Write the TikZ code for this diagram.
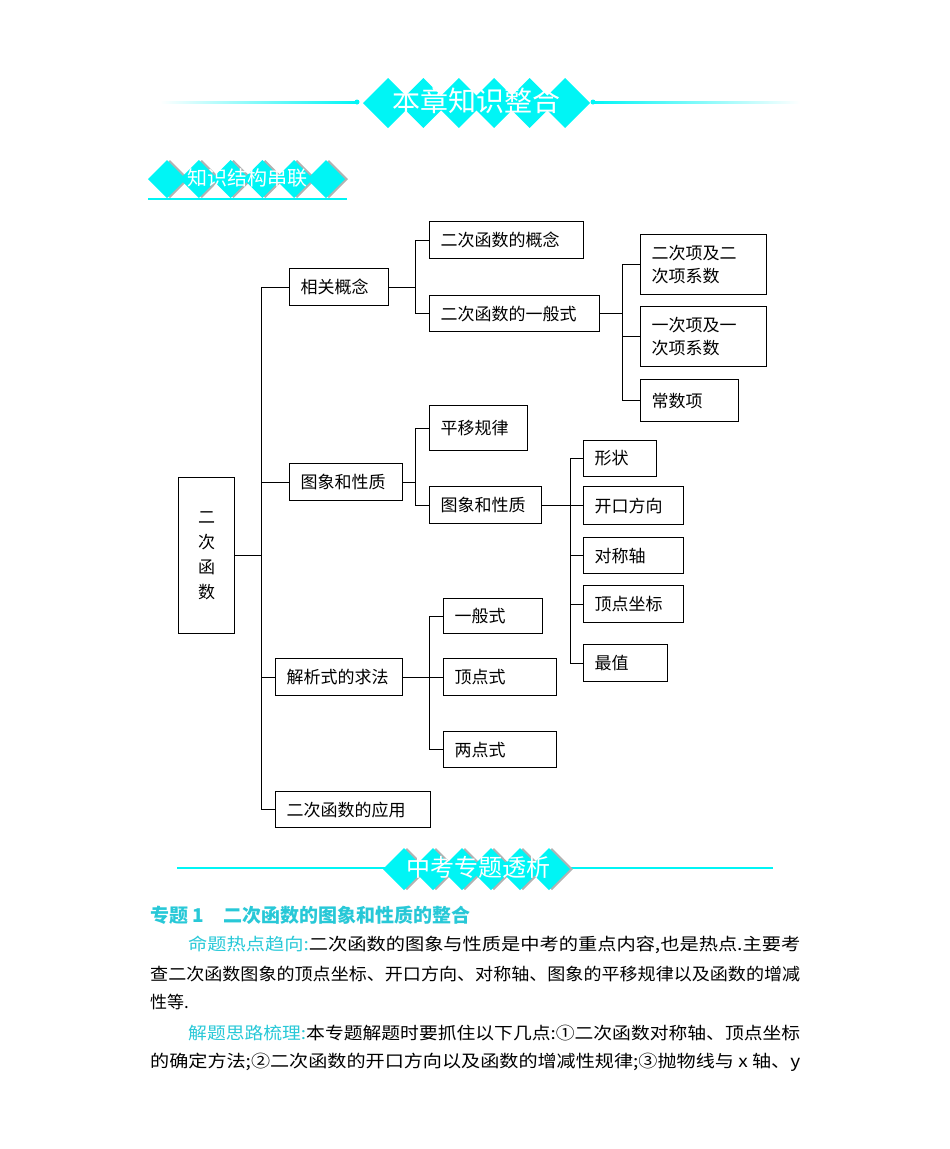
\documentclass[tikz,border=0pt]{standalone}
\usepackage{fontspec}
\setmainfont{Noto Sans CJK SC}
\definecolor{cy}{RGB}{0,245,245}
\definecolor{cyt}{RGB}{40,200,215}
\tikzset{
 bx/.style={draw,line width=1.1pt,anchor=north west,inner sep=0pt,font=\fontsize{17}{23}\selectfont},
 ln/.style={line width=1pt},
}
\newcommand{\mybox}[6]{\node[bx,minimum width=#4-#2,minimum height=#5-#3,align=left,text width=#4-#2-22] (#1) at (#2,#3) {#6};}
\begin{document}
\begin{tikzpicture}[x=1pt,y=-1pt]
\useasboundingbox (0,0) rectangle (950,1149);
% top header
\shade[left color=white,right color=cy] (160,101) rectangle (357,103);
\shade[left color=cy,right color=white] (593,101) rectangle (800,103);
\fill[cy] (357,102) circle (2.5);
\fill[cy] (593,102) circle (2.5);
\foreach \i in {0,...,5}{\fill[cy] ({388+35.4*\i},78)--++(25,25)--++(-25,25)--++(-25,-25)--cycle;}
\node[text=white,font=\fontsize{28}{28}\selectfont] (t1) at (476,101) {本章知识整合};
% second header
\foreach \i in {0,...,5}{\fill[gray!60] ({170+31.8*\i},160)--++(19,19)--++(-19,19)--++(-19,-19)--cycle;
 \fill[cy] ({167+31.8*\i},160)--++(19,19)--++(-19,19)--++(-19,-19)--cycle;}
\draw[cy,line width=1.2pt] (148,199) -- (347,199);
\node[text=white,font=\fontsize{20}{20}\selectfont] (t2) at (247,178) {知识结构串联};
% boxes
\node[bx,minimum width=56,minimum height=156] (root) at (178,477) {};
\node[font=\fontsize{17}{25}\selectfont,align=center] at (root.center) {二\\次\\函\\数};
\mybox{a}{289}{268}{388}{305}{相关概念}
\mybox{a1}{429}{221}{583}{258}{二次函数的概念}
\mybox{a2}{429}{295}{599}{331}{二次函数的一般式}
\mybox{b1}{640}{234}{766}{294}{二次项及二\\次项系数}
\mybox{b2}{640}{306}{766}{366}{一次项及一\\次项系数}
\mybox{b3}{640}{379}{738}{421}{常数项}
\mybox{c}{289}{463}{402}{500}{图象和性质}
\mybox{c1}{429}{405}{527}{450}{平移规律}
\mybox{c2}{429}{486}{541}{523}{图象和性质}
\mybox{d1}{583}{440}{656}{476}{形状}
\mybox{d2}{583}{486}{683}{524}{开口方向}
\mybox{d3}{583}{537}{683}{573}{对称轴}
\mybox{d4}{583}{585}{683}{622}{顶点坐标}
\mybox{d5}{583}{644}{667}{681}{最值}
\mybox{e}{275}{658}{402}{695}{解析式的求法}
\mybox{e1}{443}{598}{542}{633}{一般式}
\mybox{e2}{443}{658}{556}{695}{顶点式}
\mybox{e3}{443}{731}{556}{767}{两点式}
\mybox{f}{275}{791}{430}{827}{二次函数的应用}
% connectors
\draw[ln] (root.east) -- (root.east -| 261,0);
\draw[ln] (a.west -| 261,0) -- (f.west -| 261,0);
\foreach \n in {a,c,e,f} \draw[ln] (\n.west -| 261,0) -- (\n.west);
\draw[ln] (a.east) -- (a.east -| 415,0);
\draw[ln] (a1.west -| 415,0) -- (a2.west -| 415,0);
\foreach \n in {a1,a2} \draw[ln] (\n.west -| 415,0) -- (\n.west);
\draw[ln] (a2.east) -- (a2.east -| 622,0);
\draw[ln] (b1.west -| 622,0) -- (622,400);
\foreach \n in {b1,b2,b3} \draw[ln] (\n.west -| 622,0) -- (\n.west);
\draw[ln] (c.east) -- (c.east -| 415,0);
\draw[ln] (c1.west -| 415,0) -- (c2.west -| 415,0);
\foreach \n in {c1,c2} \draw[ln] (\n.west -| 415,0) -- (\n.west);
\draw[ln] (c2.east) -- (c2.east -| 570,0);
\draw[ln] (d1.west -| 570,0) -- (d5.west -| 570,0);
\foreach \n in {d1,d2,d3,d4,d5} \draw[ln] (\n.west -| 570,0) -- (\n.west);
\draw[ln] (e.east) -- (e.east -| 429,0);
\draw[ln] (e1.west -| 429,0) -- (e3.west -| 429,0);
\foreach \n in {e1,e2,e3} \draw[ln] (\n.west -| 429,0) -- (\n.west);
% third header
\draw[cy,line width=1.2pt] (177,868) -- (773,868);
\foreach \i in {0,...,5}{\fill[gray!60] ({407+29*\i},848)--++(21,21)--++(-21,21)--++(-21,-21)--cycle;
 \fill[cy] ({404+29*\i},848)--++(21,21)--++(-21,21)--++(-21,-21)--cycle;}
\node[text=white,font=\fontsize{24}{24}\selectfont] (t3) at (478,867) {中考专题透析};
% text
\node[anchor=west,text=cyt,font=\fontsize{19}{19}\selectfont\bfseries,inner sep=0] (h) at (150,915) {专题 1\hspace{1em}二次函数的图象和性质的整合};
\tikzset{tl/.style={anchor=west,inner sep=0,font=\fontsize{17}{17}\selectfont}}
\node[tl] (p1) at (188,945) {\resizebox{612pt}{\height}{\textcolor{cyt}{命题热点趋向:}二次函数的图象与性质是中考的重点内容,也是热点.主要考}};
\node[tl] (p2) at (150,974) {\resizebox{650pt}{\height}{查二次函数图象的顶点坐标、开口方向、对称轴、图象的平移规律以及函数的增减}};
\node[tl] (p3) at (150,1002) {性等.};
\node[tl] (p4) at (188,1033) {\resizebox{612pt}{\height}{\textcolor{cyt}{解题思路梳理:}本专题解题时要抓住以下几点:①二次函数对称轴、顶点坐标}};
\node[tl] (p5) at (150,1062) {\resizebox{650pt}{\height}{的确定方法;②二次函数的开口方向以及函数的增减性规律;③抛物线与 \textit{x} 轴、\textit{y}}};
\end{tikzpicture}
\end{document}
